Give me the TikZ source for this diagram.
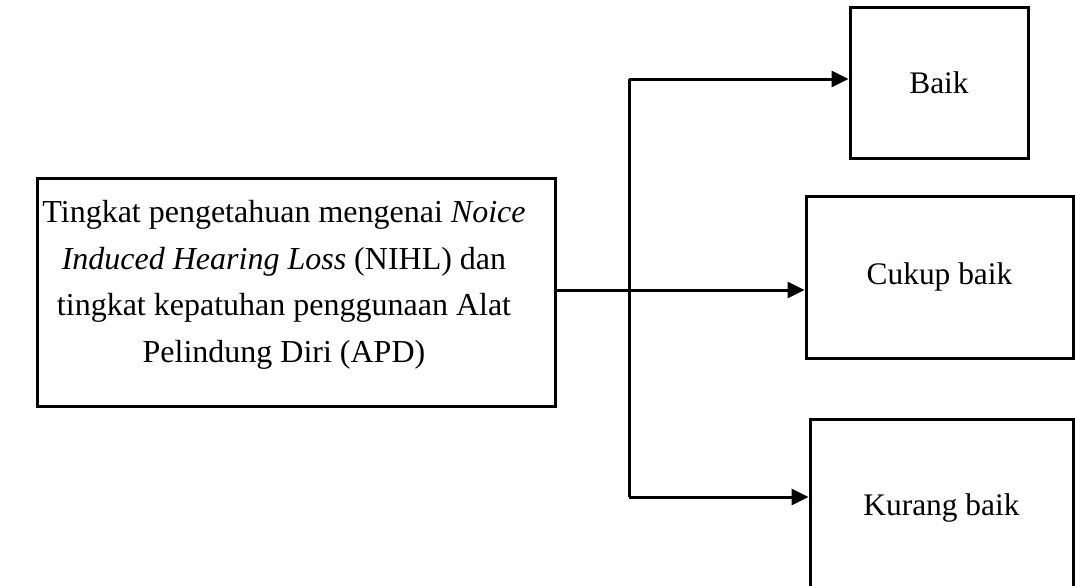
\documentclass[tikz,border=0pt]{standalone}
\usepackage{fontspec}
\setmainfont{Liberation Serif}
\usepackage{tikz}
\usetikzlibrary{positioning,arrows.meta,calc}

\tikzset{
  kotak/.style={draw, line width=1.5pt, inner sep=0pt, align=center,
    font=\fontsize{15.7}{23.25}\selectfont},
  panah/.style={line width=1.5pt, -{Triangle[length=8.5pt,width=8pt]}},
  garis/.style={line width=1.5pt}
}

\begin{document}
\begin{tikzpicture}[x=0.5pt,y=-0.5pt]
  \useasboundingbox (0,0) rectangle (1075,585);
  \clip (0,0) rectangle (1075,585);

  % kotak utama
  \node[kotak, minimum width=259pt, minimum height=114pt,
        font=\fontsize{16}{23.25}\selectfont] (utama) at (296,292)
    {\raisebox{4.3pt}[\height][\depth]{\begin{tabular}{@{}c@{\hspace{12pt}}}
     Tingkat pengetahuan mengenai \textit{Noice}\\
     \textit{Induced Hearing Loss} (NIHL) dan\\
     tingkat kepatuhan penggunaan Alat\\
     Pelindung Diri (APD)\end{tabular}}};

  % kategori
  \node[kotak, minimum width=89pt, minimum height=75.5pt] (baik) at (939,82.5) {Baik};
  \node[kotak, minimum width=133.5pt, minimum height=81pt] (cukup) at (939.5,277) {Cukup baik};
  \node[kotak, minimum width=131.5pt, minimum height=89pt] (kurang) at (941.5,508) {Kurang baik};

  % percabangan
  \coordinate (cabang) at (629,290);
  \coordinate (atas) at (629,79);
  \coordinate (bawah) at (629,497);

  \draw[garis] (utama.east |- cabang) -- (cabang);
  \draw[garis] (atas) -- (bawah);
  \draw[panah] (atas) -- (atas -| baik.west);
  \draw[panah] (cabang) -- (cabang -| cukup.west);
  \draw[panah] (bawah) -- (bawah -| kurang.west);
\end{tikzpicture}
\end{document}
